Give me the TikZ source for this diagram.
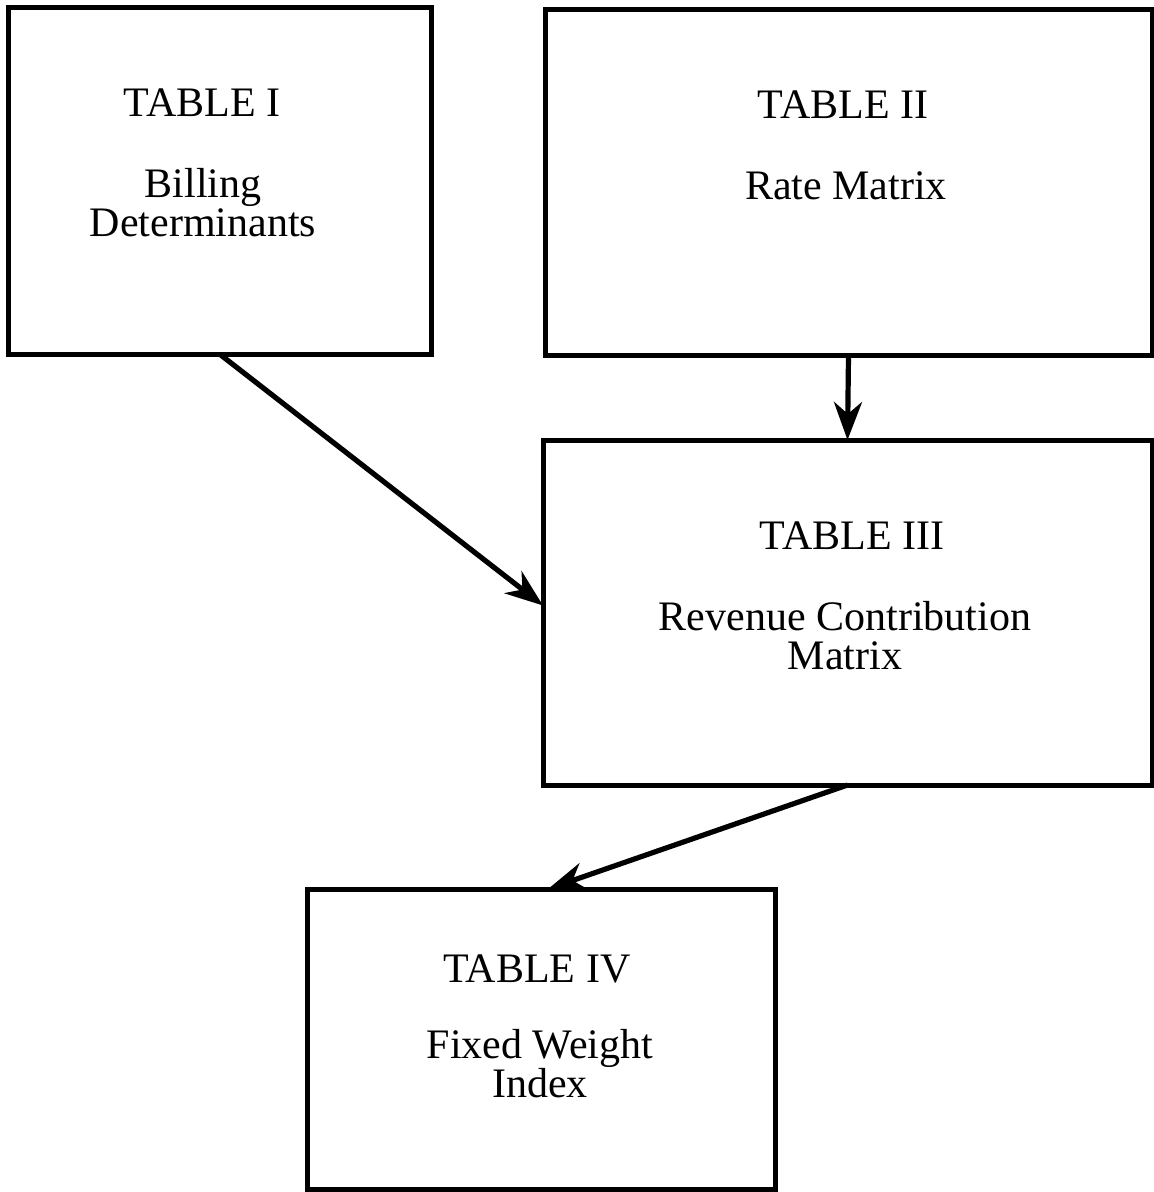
\documentclass[tikz,border=0pt]{standalone}
\usepackage{fontspec}
\setmainfont{Liberation Serif}
\usetikzlibrary{arrows.meta}
\begin{document}
\begin{tikzpicture}[x=0.5pt,y=-0.5pt,
  tablebox/.style={draw,line width=2.5pt,rectangle,inner sep=0pt,outer sep=0pt},
  txt/.style={font=\fontsize{21}{22}\selectfont,inner sep=0pt,anchor=base},
  conn/.style={line width=2.6pt,-{Stealth[length=19pt,width=14pt,inset=6pt]}}]
\useasboundingbox (0,0) rectangle (1153,1192);
\node[tablebox,minimum width=211.5pt,minimum height=173pt] (b1) at (219.5,181) {};
\node[tablebox,minimum width=303.5pt,minimum height=172.5pt] (b2) at (848.5,182.5) {};
\node[tablebox,minimum width=304.5pt,minimum height=172.5pt] (b3) at (847.5,612.5) {};
\node[tablebox,minimum width=234pt,minimum height=150pt] (b4) at (541,1039) {};
\node[txt] (t1a) at (202,117) {TABLE I};
\node[txt] (t1b) at (203,198) {Billing};
\node[txt] (t1c) at (203,237) {Determinants};
\node[txt] (t2a) at (843,119) {TABLE II};
\node[txt] (t2b) at (846,200) {Rate Matrix};
\node[txt] (t3a) at (852,549) {TABLE III};
\node[txt] (t3b) at (845,630) {Revenue Contribution};
\node[txt] (t3c) at (845,669) {Matrix};
\node[txt] (t4a) at (537,982) {TABLE IV};
\node[txt] (t4b) at (540,1058) {Fixed Weight};
\node[txt] (t4c) at (540,1097) {Index};
\draw[conn] (b1.south) -- ([yshift=3.5pt]b3.west);
\draw[conn] (b2.south) -- (b3.north);
\draw[conn] (b3.south) -- ([xshift=3.5pt]b4.north);
\end{tikzpicture}
\end{document}
